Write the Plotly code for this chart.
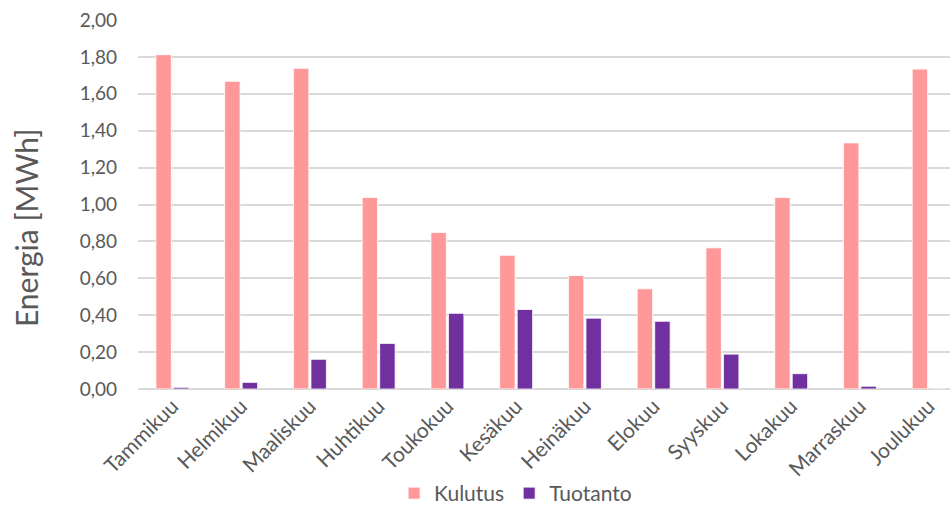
import plotly.graph_objects as go

months = ["Tammikuu", "Helmikuu", "Maaliskuu", "Huhtikuu", "Toukokuu", "Kesäkuu",
          "Heinäkuu", "Elokuu", "Syyskuu", "Lokakuu", "Marraskuu", "Joulukuu"]
kulutus = [1.812, 1.668, 1.738, 1.038, 0.848, 0.725, 0.615, 0.543, 0.765, 1.038, 1.334, 1.734]
tuotanto = [0.009, 0.036, 0.161, 0.247, 0.410, 0.431, 0.384, 0.367, 0.189, 0.083, 0.015, 0.003]
y_title = "Energia [MWh]"

font_family = "Lato, Open Sans, sans-serif"
gray = "#595959"

fig = go.Figure()
fig.add_trace(go.Bar(name="Kulutus", x=months, y=kulutus,
                     marker=dict(color="#FF9999", line=dict(color="white", width=0.8))))
fig.add_trace(go.Bar(name="Tuotanto", x=months, y=tuotanto,
                     marker=dict(color="#7030A0", line=dict(color="white", width=0.8))))

fig.add_annotation(text=y_title, xref="paper", yref="paper", x=-0.138, y=0.436,
                   xanchor="center", yanchor="middle", textangle=-90, showarrow=False,
                   font=dict(size=30, color=gray, family=font_family))

fig.update_layout(
    width=952, height=514,
    margin=dict(l=138, r=2, t=20, b=125),
    paper_bgcolor="white", plot_bgcolor="white",
    barmode="group", bargap=0.49, bargroupgap=0.12,
    font=dict(family=font_family, color=gray, size=19),
    showlegend=True,
    legend=dict(orientation="h", x=0.465, xanchor="center",
                yref="container", y=-0.005, yanchor="bottom",
                font=dict(size=21, color=gray), itemwidth=30, traceorder="normal"),
    xaxis=dict(type="category", range=[-0.5, 11.31], tickangle=-45,
               showgrid=False, showline=False, ticks="", automargin=False,
               tickfont=dict(size=21, color=gray)),
    yaxis=dict(range=[0, 2.0], dtick=0.2, tickformat=".2f", automargin=False,
               showgrid=True, gridcolor="#d9d9d9", gridwidth=1.5,
               zeroline=True, zerolinecolor="#d9d9d9", zerolinewidth=1.5,
               showline=False, ticks="", ticklabelstandoff=20,
               tickfont=dict(size=19, color=gray)),
    separators=", ",
)

fig.write_html("out.html")
